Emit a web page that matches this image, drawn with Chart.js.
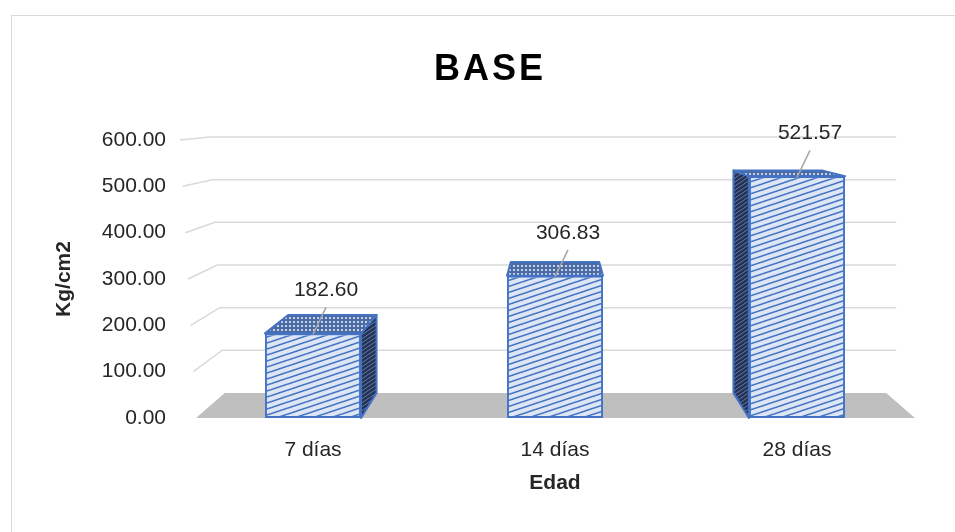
<!DOCTYPE html>
<html>
<head>
<meta charset="utf-8">
<script src="https://cdn.jsdelivr.net/npm/chart.js@4.4.1/dist/chart.umd.min.js"></script>
<style>
  body { margin: 0; background: #fff; }
  canvas { display: block; }
</style>
</head>
<body>
<canvas id="myChart" width="955" height="532"></canvas>
<script>
const chartTitle = "BASE";
const categories = ["7 días", "14 días", "28 días"];
const resistencia = [182.6, 306.83, 521.57];
const yMin = 0;
const yMax = 600;
const yStep = 100;

const FONT = '"Liberation Sans", Arial, sans-serif';
const TEXT = "#262626";
const BLUE = "#4472c4";

// perspective used for the fake 3D look (vanishing point + depth scale)
const VP = { x: 555, y: 104 };
const DEPTH = 0.92;
const back = (x, y) => ({ x: VP.x + DEPTH * (x - VP.x), y: VP.y + DEPTH * (y - VP.y) });

function makePattern(w, h, bg, fg, lw, draw) {
  const c = document.createElement("canvas");
  c.width = w;
  c.height = h;
  const g = c.getContext("2d");
  g.fillStyle = bg;
  g.fillRect(0, 0, w, h);
  g.strokeStyle = fg;
  g.fillStyle = fg;
  g.lineWidth = lw;
  draw(g, w, h);
  return g.createPattern(c, "repeat");
}

function diagonal(g, w, h) {
  for (let i = -1; i <= 1; i++) {
    for (let j = -1; j <= 1; j++) {
      g.beginPath();
      g.moveTo(i * w, h + j * h);
      g.lineTo(i * w + w, j * h);
      g.stroke();
    }
  }
}

const ctx = document.getElementById("myChart").getContext("2d");
const frontFill = makePattern(18, 6, "#dce6f5", BLUE, 1.6, diagonal);
const topFill = makePattern(4, 4, "#4d6ba3", "#c3d3ee", 1, (g) => g.fillRect(1, 1, 2, 2));
const sideFill = makePattern(6, 4, "#26324f", "#5b7ab8", 1, diagonal);

function poly(c, pts, fill) {
  c.beginPath();
  c.moveTo(pts[0].x, pts[0].y);
  pts.slice(1).forEach((p) => c.lineTo(p.x, p.y));
  c.closePath();
  c.fillStyle = fill;
  c.fill();
  c.strokeStyle = BLUE;
  c.lineWidth = 2;
  c.lineJoin = "round";
  c.stroke();
}

const scene3d = {
  id: "scene3d",
  beforeDraw(chart) {
    const c = chart.ctx;
    c.save();
    // outer chart border (right/bottom edges fall outside the picture)
    c.strokeStyle = "#d9d9d9";
    c.lineWidth = 1;
    c.strokeRect(11.5, 15.5, 1000, 1000);
    // title
    c.fillStyle = "#000";
    c.font = "bold 36px " + FONT;
    c.letterSpacing = "3px";
    c.textAlign = "center";
    c.textBaseline = "alphabetic";
    c.fillText(chartTitle, 490, 80);
    c.restore();
  },
  beforeDatasetsDraw(chart) {
    const c = chart.ctx;
    const a = chart.chartArea;
    const y = chart.scales.y;
    c.save();
    // back wall gridlines with a short left wall segment
    c.strokeStyle = "#d9d9d9";
    c.lineWidth = 1.5;
    for (let v = yMin + yStep; v <= yMax; v += yStep) {
      const yf = y.getPixelForValue(v);
      const xl = a.left + 4 - 16 * (v / yMax);
      const bl = back(xl, yf);
      const br = back(a.right - 3, yf);
      c.beginPath();
      c.moveTo(xl, yf);
      c.lineTo(bl.x, bl.y);
      c.lineTo(br.x + 10, br.y);
      c.stroke();
    }
    // floor
    const y0 = y.getPixelForValue(0);
    const fl = { x: a.left + 4, y: y0 };
    const fr = { x: a.right - 3, y: y0 };
    const pts = [fl, fr, back(fr.x, fr.y), back(fl.x, fl.y)];
    c.beginPath();
    c.moveTo(pts[0].x, pts[0].y);
    pts.slice(1).forEach((p) => c.lineTo(p.x, p.y));
    c.closePath();
    c.fillStyle = "#bfbfbf";
    c.fill();
    c.restore();
  },
  afterDatasetsDraw(chart) {
    const c = chart.ctx;
    const meta = chart.getDatasetMeta(0);
    c.save();
    meta.data.forEach((bar, i) => {
      const p = bar.getProps(["x", "y", "base", "width"], true);
      const l = p.x - p.width / 2;
      const r = p.x + p.width / 2;
      const ftl = { x: l, y: p.y }, ftr = { x: r, y: p.y };
      const fbl = { x: l, y: p.base }, fbr = { x: r, y: p.base };
      const btl = back(l, p.y), btr = back(r, p.y);
      const bbl = back(l, p.base), bbr = back(r, p.base);
      if (p.x < VP.x - 3) poly(c, [ftr, btr, bbr, fbr], sideFill);
      if (p.x > VP.x + 3) poly(c, [ftl, btl, bbl, fbl], sideFill);
      poly(c, [ftl, ftr, btr, btl], topFill);

      // data label with leader line
      const lx = p.x + 13;
      const ly = p.y - 37;
      c.strokeStyle = "#a6a6a6";
      c.lineWidth = 1.5;
      c.beginPath();
      c.moveTo(lx, ly + 11);
      c.lineTo(p.x, p.y + 1);
      c.stroke();
      c.fillStyle = TEXT;
      c.font = "21px " + FONT;
      c.textAlign = "center";
      c.textBaseline = "alphabetic";
      c.fillText(resistencia[i].toFixed(2), lx, ly);
    });
    c.restore();
  },
};

const data = {
  labels: categories,
  datasets: [
    {
      data: resistencia,
      backgroundColor: frontFill,
      borderColor: BLUE,
      borderWidth: 2,
      borderSkipped: false,
      categoryPercentage: 1,
      barPercentage: 0.397,
    },
  ],
};

const config = {
  type: "bar",
  data: data,
  options: {
    responsive: false,
    animation: false,
    devicePixelRatio: 1,
    layout: {
      padding: { left: 0, top: 140, right: 37, bottom: 0 },
    },
    plugins: {
      legend: { display: false },
      tooltip: { enabled: false },
    },
    scales: {
      x: {
        grid: { display: false, drawTicks: false },
        border: { display: false },
        ticks: { color: TEXT, font: { family: FONT, size: 21 }, padding: 20 },
        title: {
          display: true,
          text: "Edad",
          color: TEXT,
          font: { family: FONT, size: 21, weight: "bold" },
          padding: { top: 0, bottom: 36 },
        },
        afterFit: (scale) => {
          scale.height = 114;
        },
      },
      y: {
        min: yMin,
        max: yMax,
        grid: { display: false, drawTicks: false },
        border: { display: false },
        ticks: {
          stepSize: yStep,
          color: TEXT,
          font: { family: FONT, size: 21 },
          padding: 26,
          callback: (v) => Number(v).toFixed(2),
        },
        title: {
          display: true,
          text: "Kg/cm2",
          color: TEXT,
          font: { family: FONT, size: 21, weight: "bold" },
          padding: { top: 52, bottom: 0 },
        },
        afterFit: (scale) => {
          scale.width = 192;
        },
      },
    },
  },
  plugins: [scene3d],
};

const myChart = new Chart(document.getElementById("myChart"), config);
</script>
</body>
</html>
